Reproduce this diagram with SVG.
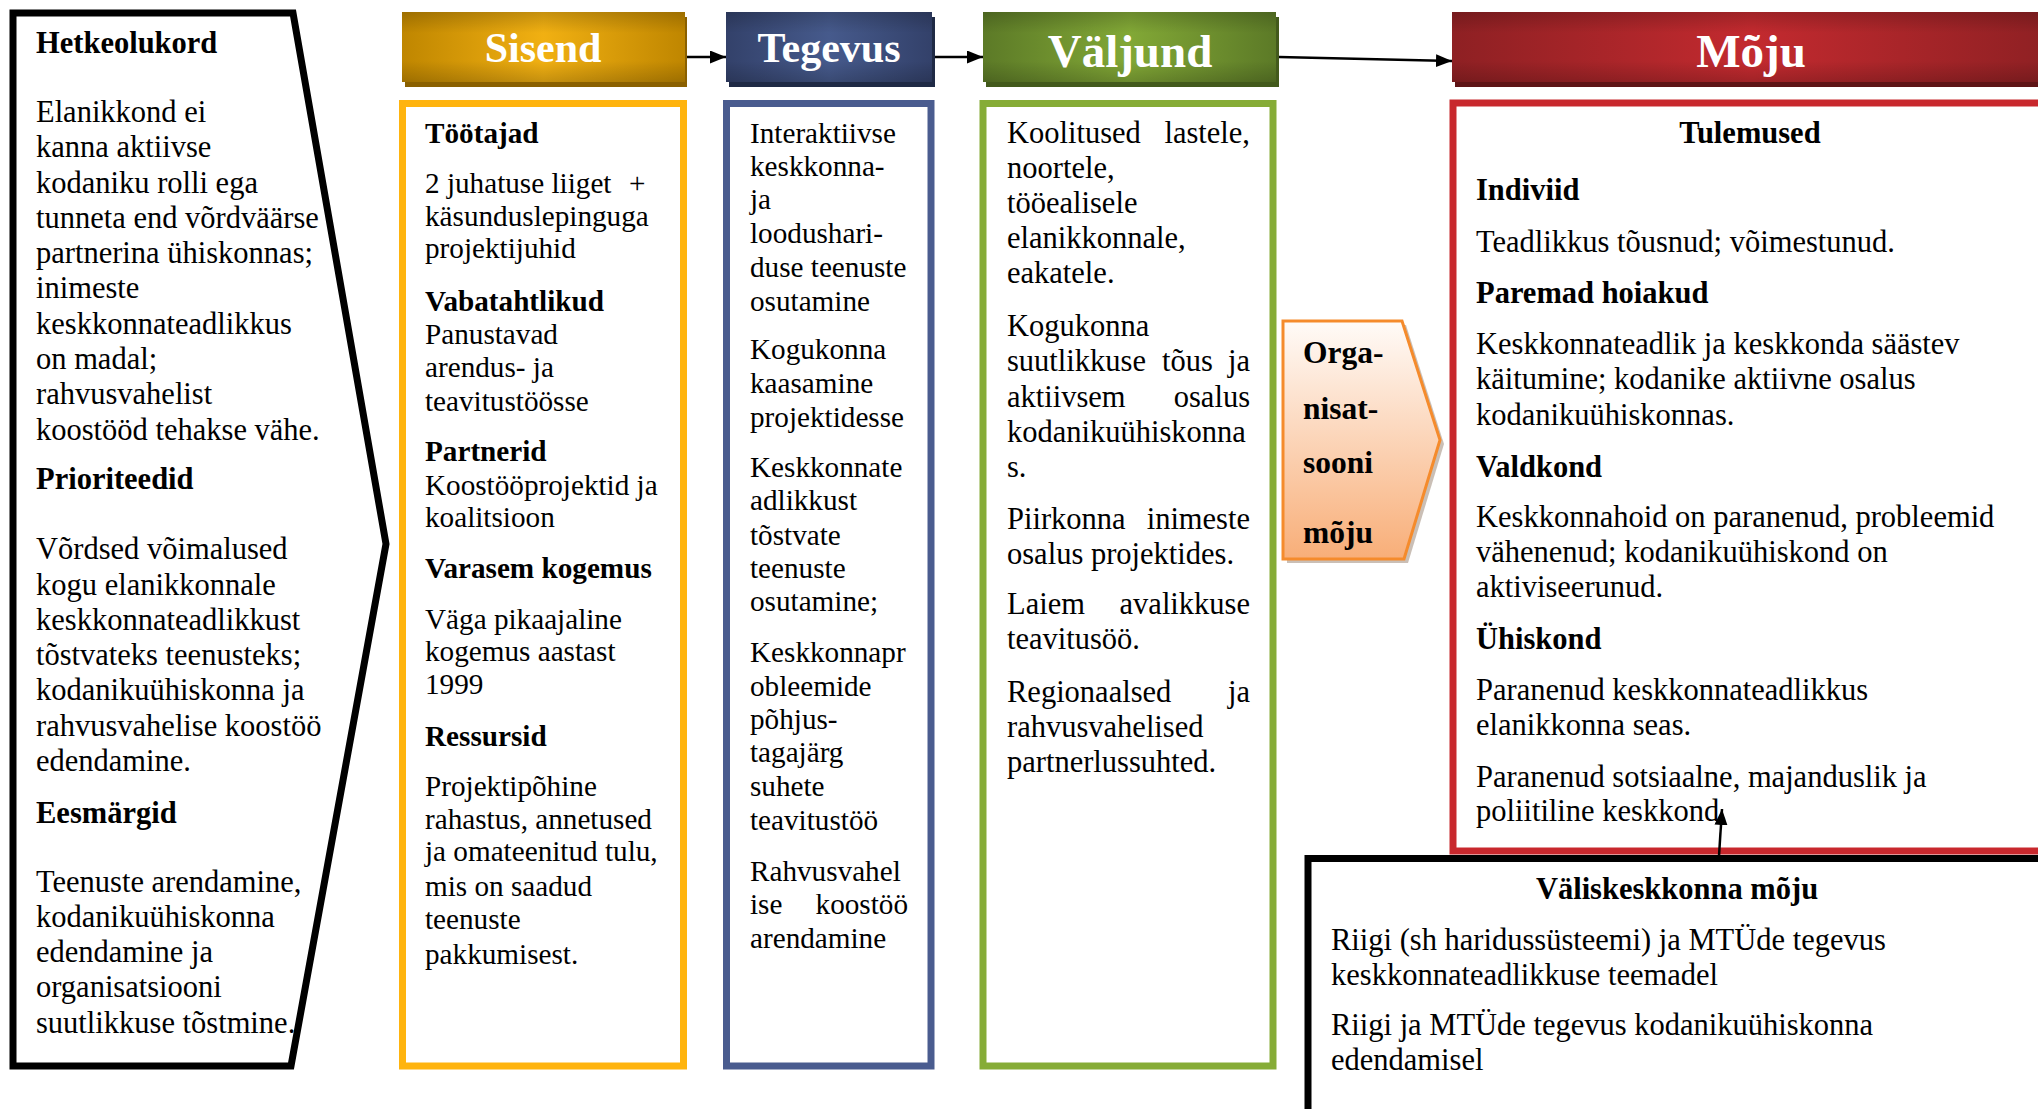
<svg xmlns="http://www.w3.org/2000/svg" width="2038" height="1109" viewBox="0 0 2038 1109">
<style>
text{font-family:"Liberation Serif","Times New Roman",serif;fill:#000}
.t{font-size:30.5px}
.s{font-size:29.2px}
.b{font-weight:bold}
.e{text-anchor:end}
.m{text-anchor:middle}
.h{font-weight:bold;fill:#fff;text-anchor:middle}
.conn{stroke:#000;stroke-width:2.5;fill:none}
</style>
<defs>
<marker id="ah" markerUnits="userSpaceOnUse" markerWidth="17" markerHeight="14" refX="16" refY="6.5" orient="auto">
<path d="M0,0 L16,6.5 L0,13 z" fill="#000"/>
</marker>
<linearGradient id="gS" x1="0" y1="0" x2="1" y2="0"><stop offset="0" stop-color="#BF8600"/><stop offset="0.5" stop-color="#F1B012"/><stop offset="1" stop-color="#BF8600"/></linearGradient>
<linearGradient id="gT" x1="0" y1="0" x2="1" y2="0"><stop offset="0" stop-color="#33416A"/><stop offset="0.5" stop-color="#465A8C"/><stop offset="1" stop-color="#33416A"/></linearGradient>
<linearGradient id="gV" x1="0" y1="0" x2="1" y2="0"><stop offset="0" stop-color="#5C7A27"/><stop offset="0.5" stop-color="#82A836"/><stop offset="1" stop-color="#5C7A27"/></linearGradient>
<linearGradient id="gM" x1="0" y1="0" x2="1" y2="0"><stop offset="0" stop-color="#8E2023"/><stop offset="0.5" stop-color="#C32A2F"/><stop offset="1" stop-color="#8E2023"/></linearGradient>
<linearGradient id="gOv" x1="0" y1="0" x2="0" y2="1"><stop offset="0" stop-color="#000" stop-opacity="0.18"/><stop offset="0.3" stop-color="#000" stop-opacity="0"/><stop offset="0.7" stop-color="#000" stop-opacity="0"/><stop offset="1" stop-color="#000" stop-opacity="0.18"/></linearGradient>
<linearGradient id="gO" x1="0" y1="0" x2="0" y2="1"><stop offset="0" stop-color="#FFFBF8"/><stop offset="1" stop-color="#F8AE78"/></linearGradient>
</defs>

<g id="hetkeolukord">
<path d="M13,13 H293 L386,544 L291,1066 H13 Z" fill="#fff" stroke="#000" stroke-width="7" stroke-linejoin="miter"/>
<text class="t b" x="36" y="53">Hetkeolukord</text>
<text class="t" x="36" y="122">Elanikkond ei</text>
<text class="t" x="36" y="157">kanna aktiivse</text>
<text class="t" x="36" y="192.5">kodaniku rolli ega</text>
<text class="t" x="36" y="228">tunneta end võrdväärse</text>
<text class="t" x="36" y="263">partnerina ühiskonnas;</text>
<text class="t" x="36" y="298">inimeste</text>
<text class="t" x="36" y="334">keskkonnateadlikkus</text>
<text class="t" x="36" y="369">on madal;</text>
<text class="t" x="36" y="404">rahvusvahelist</text>
<text class="t" x="36" y="440">koostööd tehakse vähe.</text>
<text class="t b" x="36" y="489">Prioriteedid</text>
<text class="t" x="36" y="559">Võrdsed võimalused</text>
<text class="t" x="36" y="595">kogu elanikkonnale</text>
<text class="t" x="36" y="630">keskkonnateadlikkust</text>
<text class="t" x="36" y="665">tõstvateks teenusteks;</text>
<text class="t" x="36" y="700">kodanikuühiskonna ja</text>
<text class="t" x="36" y="736">rahvusvahelise koostöö</text>
<text class="t" x="36" y="771">edendamine.</text>
<text class="t b" x="36" y="823">Eesmärgid</text>
<text class="t" x="36" y="892">Teenuste arendamine,</text>
<text class="t" x="36" y="927">kodanikuühiskonna</text>
<text class="t" x="36" y="962">edendamine ja</text>
<text class="t" x="36" y="997">organisatsiooni</text>
<text class="t" x="36" y="1033">suutlikkuse tõstmine.</text>
</g>

<g id="sisend-header">
<rect x="405" y="17" width="282" height="70" fill="#8A6000"/>
<rect x="402" y="12" width="283" height="70" fill="url(#gS)"/>
<rect x="402" y="12" width="283" height="70" fill="url(#gOv)"/>
<text class="h" x="543" y="62" font-size="42">Sisend</text>
</g>
<g id="tegevus-header">
<rect x="729" y="17" width="206" height="70" fill="#1F2A45"/>
<rect x="726" y="12" width="206" height="70" fill="url(#gT)"/>
<rect x="726" y="12" width="206" height="70" fill="url(#gOv)"/>
<text class="h" x="829" y="62" font-size="42">Tegevus</text>
</g>
<g id="valjund-header">
<rect x="986" y="17" width="293" height="70" fill="#435A1C"/>
<rect x="983" y="12" width="293" height="70" fill="url(#gV)"/>
<rect x="983" y="12" width="293" height="70" fill="url(#gOv)"/>
<text class="h" x="1130" y="67" font-size="47">Väljund</text>
</g>
<g id="moju-header">
<rect x="1455" y="17" width="600" height="70" fill="#5E1416"/>
<rect x="1452" y="12" width="600" height="70" fill="url(#gM)"/>
<rect x="1452" y="12" width="600" height="70" fill="url(#gOv)"/>
<text class="h" x="1751" y="67" font-size="47">Mõju</text>
</g>

<g id="sisend">
<rect x="402.5" y="103.5" width="281" height="962.5" fill="#fff" stroke="#FFB40E" stroke-width="7"/>
<text class="s b" x="425" y="143">Töötajad</text>
<text class="s" x="425" y="193">2 juhatuse liiget</text>
<text class="s" x="629" y="193">+</text>
<text class="s" x="425" y="226">käsunduslepinguga</text>
<text class="s" x="425" y="258">projektijuhid</text>
<text class="s b" x="425" y="311">Vabatahtlikud</text>
<text class="s" x="425" y="344">Panustavad</text>
<text class="s" x="425" y="377">arendus- ja</text>
<text class="s" x="425" y="411">teavitustöösse</text>
<text class="s b" x="425" y="461">Partnerid</text>
<text class="s" x="425" y="495">Koostööprojektid ja</text>
<text class="s" x="425" y="527">koalitsioon</text>
<text class="s b" x="425" y="578">Varasem kogemus</text>
<text class="s" x="425" y="629">Väga pikaajaline</text>
<text class="s" x="425" y="661">kogemus aastast</text>
<text class="s" x="425" y="694">1999</text>
<text class="s b" x="425" y="746">Ressursid</text>
<text class="s" x="425" y="796">Projektipõhine</text>
<text class="s" x="425" y="829">rahastus, annetused</text>
<text class="s" x="425" y="861">ja omateenitud tulu,</text>
<text class="s" x="425" y="896">mis on saadud</text>
<text class="s" x="425" y="929">teenuste</text>
<text class="s" x="425" y="964">pakkumisest.</text>
</g>

<g id="tegevus">
<rect x="726.5" y="103.5" width="204.5" height="962.5" fill="#fff" stroke="#4A5C8F" stroke-width="7"/>
<text class="s" x="750" y="143">Interaktiivse</text>
<text class="s" x="750" y="176">keskkonna-</text>
<text class="s" x="750" y="209">ja</text>
<text class="s" x="750" y="243">loodushari-</text>
<text class="s" x="750" y="277">duse teenuste</text>
<text class="s" x="750" y="311">osutamine</text>
<text class="s" x="750" y="359">Kogukonna</text>
<text class="s" x="750" y="393">kaasamine</text>
<text class="s" x="750" y="427">projektidesse</text>
<text class="s" x="750" y="477">Keskkonnate</text>
<text class="s" x="750" y="510">adlikkust</text>
<text class="s" x="750" y="545">tõstvate</text>
<text class="s" x="750" y="578">teenuste</text>
<text class="s" x="750" y="611">osutamine;</text>
<text class="s" x="750" y="662">Keskkonnapr</text>
<text class="s" x="750" y="696">obleemide</text>
<text class="s" x="750" y="729">põhjus-</text>
<text class="s" x="750" y="762">tagajärg</text>
<text class="s" x="750" y="796">suhete</text>
<text class="s" x="750" y="830">teavitustöö</text>
<text class="s" x="750" y="881">Rahvusvahel</text>
<text class="s" x="750" y="914">ise</text>
<text class="s e" x="908" y="914">koostöö</text>
<text class="s" x="750" y="948">arendamine</text>
</g>

<g id="valjund">
<rect x="983" y="103.5" width="290" height="962.5" fill="#fff" stroke="#86AC37" stroke-width="7"/>
<text class="t" x="1007" y="143">Koolitused</text>
<text class="t e" x="1250" y="143">lastele,</text>
<text class="t" x="1007" y="178">noortele,</text>
<text class="t" x="1007" y="213">tööealisele</text>
<text class="t" x="1007" y="248">elanikkonnale,</text>
<text class="t" x="1007" y="283">eakatele.</text>
<text class="t" x="1007" y="336">Kogukonna</text>
<text class="t" x="1007" y="371">suutlikkuse</text>
<text class="t" x="1162" y="371">tõus</text>
<text class="t e" x="1250" y="371">ja</text>
<text class="t" x="1007" y="407">aktiivsem</text>
<text class="t e" x="1250" y="407">osalus</text>
<text class="t" x="1007" y="442">kodanikuühiskonna</text>
<text class="t" x="1007" y="477">s.</text>
<text class="t" x="1007" y="529">Piirkonna</text>
<text class="t e" x="1250" y="529">inimeste</text>
<text class="t" x="1007" y="564">osalus projektides.</text>
<text class="t" x="1007" y="614">Laiem</text>
<text class="t e" x="1250" y="614">avalikkuse</text>
<text class="t" x="1007" y="649">teavitusöö.</text>
<text class="t" x="1007" y="702">Regionaalsed</text>
<text class="t e" x="1250" y="702">ja</text>
<text class="t" x="1007" y="737">rahvusvahelised</text>
<text class="t" x="1007" y="772">partnerlussuhted.</text>
</g>

<g id="org-moju">
<path d="M1287,325 H1406 L1444,444 L1408,563 H1287 Z" fill="#9E8A7A" opacity="0.55"/>
<path d="M1283,321 H1402 L1440,440 L1404,559 H1283 Z" fill="url(#gO)" stroke="#F58B2C" stroke-width="3"/>
<text class="b" font-size="31.5" x="1303" y="363">Orga-</text>
<text class="b" font-size="31.5" x="1303" y="419">nisat-</text>
<text class="b" font-size="31.5" x="1303" y="473">sooni</text>
<text class="b" font-size="31.5" x="1303" y="543">mõju</text>
</g>

<g id="moju">
<rect x="1453" y="103" width="700" height="748" fill="#fff" stroke="#C8282D" stroke-width="7"/>
<text class="t b m" x="1750" y="143">Tulemused</text>
<text class="t b" x="1476" y="200">Indiviid</text>
<text class="t" x="1476" y="252">Teadlikkus tõusnud; võimestunud.</text>
<text class="t b" x="1476" y="303">Paremad hoiakud</text>
<text class="t" x="1476" y="354">Keskkonnateadlik ja keskkonda säästev</text>
<text class="t" x="1476" y="389">käitumine; kodanike aktiivne osalus</text>
<text class="t" x="1476" y="425">kodanikuühiskonnas.</text>
<text class="t b" x="1476" y="477">Valdkond</text>
<text class="t" x="1476" y="527">Keskkonnahoid on paranenud, probleemid</text>
<text class="t" x="1476" y="562">vähenenud; kodanikuühiskond on</text>
<text class="t" x="1476" y="597">aktiviseerunud.</text>
<text class="t b" x="1476" y="649">Ühiskond</text>
<text class="t" x="1476" y="700">Paranenud keskkonnateadlikkus</text>
<text class="t" x="1476" y="735">elanikkonna seas.</text>
<text class="t" x="1476" y="787">Paranenud sotsiaalne, majanduslik ja</text>
<text class="t" x="1476" y="821">poliitiline keskkond.</text>
</g>

<g id="valiskeskkond">
<rect x="1308" y="858.5" width="800" height="400" fill="#fff" stroke="#000" stroke-width="7"/>
<text class="t b m" x="1677" y="899">Väliskeskkonna mõju</text>
<text class="t" x="1331" y="950">Riigi (sh haridussüsteemi) ja MTÜde tegevus</text>
<text class="t" x="1331" y="985">keskkonnateadlikkuse teemadel</text>
<text class="t" x="1331" y="1035">Riigi ja MTÜde tegevus kodanikuühiskonna</text>
<text class="t" x="1331" y="1070">edendamisel</text>
</g>

<g id="connectors">
<line class="conn" x1="687" y1="57" x2="726" y2="57" marker-end="url(#ah)"/>
<line class="conn" x1="935" y1="57" x2="983" y2="57" marker-end="url(#ah)"/>
<line class="conn" x1="1279" y1="57" x2="1452" y2="61" marker-end="url(#ah)"/>
<line class="conn" x1="1719" y1="856" x2="1722" y2="809" marker-end="url(#ah)"/>
</g>
</svg>
